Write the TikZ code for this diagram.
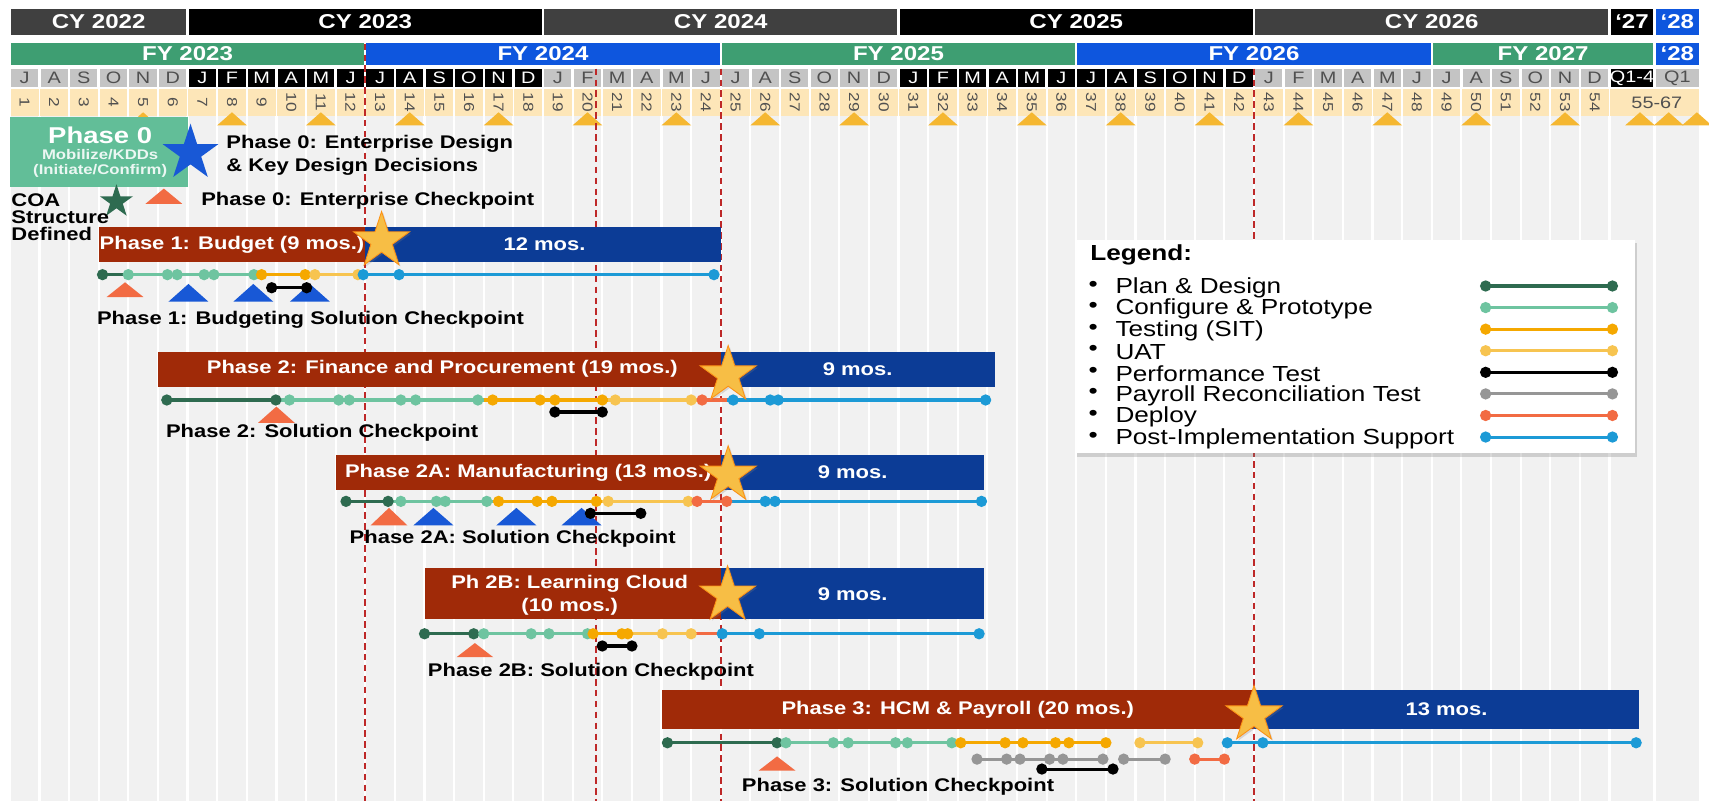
\documentclass[tikz,border=0pt]{standalone}
\usepackage{fontspec}
\setmainfont[FakeStretch=1.2]{Liberation Sans}
\usetikzlibrary{shapes.geometric,shadows}

\definecolor{cygray}{RGB}{64,64,64}
\definecolor{fygreen}{RGB}{62,158,114}
\definecolor{fyblue}{RGB}{14,86,222}
\definecolor{cellgray}{RGB}{196,196,196}
\definecolor{inkgray}{RGB}{80,80,80}
\definecolor{numtan}{RGB}{253,230,184}
\definecolor{gridgray}{RGB}{241,241,241}
\definecolor{markgold}{RGB}{245,183,49}
\definecolor{barred}{RGB}{160,42,8}
\definecolor{barblue}{RGB}{12,60,150}
\definecolor{phzero}{RGB}{98,190,152}
\definecolor{plandes}{RGB}{46,107,80}
\definecolor{config}{RGB}{110,196,160}
\definecolor{sit}{RGB}{245,168,0}
\definecolor{uat}{RGB}{247,196,80}
\definecolor{recon}{RGB}{150,150,150}
\definecolor{deploy}{RGB}{242,107,67}
\definecolor{postimp}{RGB}{28,154,214}
\definecolor{ckblue}{RGB}{24,88,214}
\definecolor{stargold}{RGB}{247,190,69}
\definecolor{dashred}{RGB}{190,40,40}

\begin{document}
\begin{tikzpicture}[x=13.59pt, y=-0.5pt,
		hdr/.style={text=white, font=\fontsize{9.2}{10}\selectfont\bfseries, inner sep=0pt},
		mon/.style={font=\fontsize{7.6}{8}\selectfont, inner sep=0pt},
		num/.style={font=\fontsize{6.6}{7}\selectfont, text=inkgray, rotate=-90, inner sep=0pt},
		bartxt/.style={text=white, font=\fontsize{8.4}{10.5}\selectfont\bfseries, inner sep=0pt, align=center},
		lbl/.style={font=\fontsize{8.4}{10}\selectfont\bfseries, inner sep=0pt, anchor=west},
		legtxt/.style={font=\fontsize{10}{11}\selectfont, inner sep=0pt, anchor=west},
		act/.style={line width=1.4pt},
		bigstar/.style={star, star points=5, star point ratio=2.618, inner sep=0pt},
		goldstar/.style={bigstar, fill=stargold, draw=orange!70!stargold, line width=0.4pt, minimum size=27pt, drop shadow={opacity=0.25, shadow xshift=0.8pt, shadow yshift=-0.8pt}},
		dashline/.style={dashred, line width=0.8pt, dash pattern=on 3pt off 2pt},
	]
	\useasboundingbox (-0.331,0) rectangle (57.36,735);
	
	% grid
	\fill[gridgray] (0,106) rectangle (57.06,735);
	\foreach \m in {0,...,54,55.52,57.06}
		\draw[white, line width=1pt] (\m,106) -- (\m,735);
	
	% calendar years
	\foreach \a/\b/\col/\txt [count=\i] in {0/6/cygray/CY 2022, 6/18/black/CY 2023, 18/30/cygray/CY 2024, 30/42/black/CY 2025, 42/54/cygray/CY 2026, 54/55.52/black/‘27, 55.52/57.06/fyblue/‘28}{
		\fill[\col] (\a+0.04,8) rectangle (\b-0.04,32);
		\node[hdr] (cy\i) at ({(\a+\b)/2},20) {\txt};
	}
	
	% fiscal years
	\foreach \a/\b/\col/\txt [count=\i] in {0/12/fygreen/FY 2023, 12/24/fyblue/FY 2024, 24/36/fygreen/FY 2025, 36/48/fyblue/FY 2026, 48/55.52/fygreen/FY 2027, 55.52/57.06/fyblue/‘28}{
		\fill[\col] (\a+0.04,39) rectangle (\b-0.04,60);
		\node[hdr] (fy\i) at ({(\a+\b)/2},49.5) {\txt};
	}
	
	% months
	\foreach \b/\cell/\ink in {0/cellgray/inkgray, 1/black/white, 2/black/white, 3/cellgray/inkgray, 4/cellgray/inkgray, 5/black/white, 6/black/white, 7/cellgray/inkgray, 8/cellgray/inkgray}{
		\ifodd\b \def\lst{J,F,M,A,M,J}\else \def\lst{J,A,S,O,N,D}\fi
		\foreach \L [count=\k] in \lst{
			\pgfmathtruncatemacro\m{6*\b+\k}
			\fill[\cell] (\m-0.96,63) rectangle (\m-0.04,80);
			\node[mon, text=\ink] (mo\m) at (\m-0.5,71.5) {\L};
		}
	}
	\fill[black] (54.04,63) rectangle (55.48,80);
	\node[mon, text=white] (moq14) at (54.76,71.5) {Q1-4};
	\fill[cellgray] (55.56,63) rectangle (57.02,80);
	\node[mon, text=inkgray] (moq1) at (56.29,71.5) {Q1};
	
	% month numbers
	\foreach \m in {1,...,54}{
		\fill[numtan] (\m-0.97,82) rectangle (\m-0.03,106);
		\node[num] (n\m) at (\m-0.5,94) {\m};
	}
	\fill[numtan] (54.03,82) rectangle (57.03,106);
	\node[mon, text=inkgray] (nlast) at (55.6,94) {55-67};
	
	\foreach \m in {5,8,...,53}
		\fill[markgold] (\m-1,115) -- (\m,115) -- (\m-0.5,103) -- cycle;
	\foreach \x in {55.03,56.0,56.95}
		\fill[markgold] (\x-0.5,115) -- (\x+0.5,115) -- (\x,103) -- cycle;
	
	\draw[dashline] (12,40) -- (12,735);
	\foreach \x in {19.78,24,42}
		\draw[dashline] (\x,63) -- (\x,735);
	
	% phase 0
	\fill[phzero] (0,107) rectangle (6,172);
	\node[hdr, font=\fontsize{10.5}{12}\selectfont\bfseries] (ph0) at (3.05,124) {Phase 0};
	\node[hdr, text=white!88!phzero, font=\fontsize{6.4}{7}\selectfont\bfseries] (ph0a) at (3.05,142) {Mobilize/KDDs};
	\node[hdr, text=white!88!phzero, font=\fontsize{6.4}{7}\selectfont\bfseries] (ph0b) at (3.05,157) {(Initiate/Confirm)};
	\node[bigstar, fill=ckblue, minimum size=27pt] (star0) at (6.1,140.5) {};
	\node[lbl] (ed1) at (7.3,132) {Phase 0: Enterprise Design};
	\node[lbl] (ed2) at (7.3,153) {\& Key Design Decisions};
	\node[bigstar, fill=plandes, minimum size=16pt] (coastar) at (3.6,185) {};
	\fill[deploy] (4.58,187) -- (5.82,187) -- (5.2,173) -- cycle;
	\node[lbl] (ec) at (6.45,184) {Phase 0: Enterprise Checkpoint};
	\node[lbl] (coa1) at (0.04,183.5) {COA};
	\node[lbl] (coa2) at (0.04,199) {Structure};
	\node[lbl] (coa3) at (0.04,214.6) {Defined};
	
	% phase 1
	\fill[barred] (3,208.5) rectangle (12,240);
	\fill[barblue] (12,208.5) rectangle (24,240);
	\node[bartxt] (p1a) at (7.5,224.5) {Phase 1: Budget (9 mos.)};
	\node[bartxt] (p1b) at (18.05,224.5) {12 mos.};
	\node[goldstar] (p1star) at (12.55,221) {};
	\foreach \col/\a/\b in {plandes/3.13/4.0, config/4.0/8.4, sit/8.4/10.0, uat/10.0/11.9, postimp/11.9/23.77}
		\draw[act, \col] (\a,252) -- (\b,252);
	\foreach \col/\x in {plandes/3.13, config/4.0, config/5.32, config/5.65, config/6.56, config/6.89, config/8.24, sit/8.5, sit/9.97, uat/10.3, uat/11.75, postimp/11.93, postimp/13.14, postimp/23.77}
		\fill[\col] (\x,252) circle (2.6pt);
	\fill[deploy] (3.27,272.5) -- (4.51,272.5) -- (3.89,259) -- cycle;
	\foreach \x in {6.03,8.22,10.13}
		\fill[ckblue] (\x-0.675,276.8) -- (\x+0.675,276.8) -- (\x,260.5) -- cycle;
	\draw[act, black] (8.84,264) -- (10.02,264);
	\fill (8.84,264) circle (2.6pt) (10.02,264) circle (2.6pt);
	\node[lbl] (p1ck) at (2.93,293) {Phase 1: Budgeting Solution Checkpoint};
	
	% phase 2
	\fill[barred] (5,322.6) rectangle (24,354.8);
	\fill[barblue] (24,322.6) rectangle (33.25,354.8);
	\node[bartxt] (p2a) at (14.6,338.7) {Phase 2: Finance and Procurement (19 mos.)};
	\node[bartxt] (p2b) at (28.62,338.7) {9 mos.};
	\foreach \col/\a/\b in {plandes/5.3/8.98, config/8.98/16.0, sit/16.0/20.2, uat/20.2/23.2, deploy/23.2/24.2, postimp/24.2/32.94}
		\draw[act, \col] (\a,367) -- (\b,367);
	\foreach \col/\x in {plandes/5.3, plandes/8.98, config/9.44, config/11.1, config/11.46, config/13.2, config/13.7, config/15.8, sit/16.3, sit/17.9, sit/18.4, sit/20.0, uat/20.44, uat/23.0, deploy/23.37, postimp/24.42, postimp/25.67, postimp/25.94, postimp/32.94}
		\fill[\col] (\x,367) circle (2.6pt);
	\fill[deploy] (8.38,388) -- (9.62,388) -- (9.0,373) -- cycle;
	\draw[act, black] (18.4,378) -- (20.0,378);
	\fill (18.4,378) circle (2.6pt) (20.0,378) circle (2.6pt);
	\node[goldstar] (p2star) at (24.25,344) {};
	\node[lbl] (p2ck) at (5.26,397) {Phase 2: Solution Checkpoint};
	
	% phase 2A
	\fill[barred] (11,417.5) rectangle (24,449.6);
	\fill[barblue] (24,417.5) rectangle (32.9,449.6);
	\node[bartxt] (p2aa) at (17.5,433.5) {Phase 2A: Manufacturing (13 mos.)};
	\node[bartxt] (p2ab) at (28.45,433.5) {9 mos.};
	\foreach \col/\a/\b in {plandes/11.35/12.77, config/12.77/16.3, sit/16.3/20.0, uat/20.0/23.0, deploy/23.0/24.2, postimp/24.2/32.8}
		\draw[act, \col] (\a,460) -- (\b,460);
	\foreach \col/\x in {plandes/11.35, plandes/12.77, config/13.2, config/14.4, config/14.7, config/16.1, sit/16.5, sit/17.8, sit/18.3, sit/19.8, uat/20.2, uat/22.9, deploy/23.2, deploy/24.2, postimp/25.5, postimp/25.83, postimp/32.8}
		\fill[\col] (\x,460) circle (2.6pt);
	\fill[deploy] (12.18,482) -- (13.42,482) -- (12.8,466) -- cycle;
	\foreach \x in {14.3,17.1,19.3}
		\fill[ckblue] (\x-0.675,482) -- (\x+0.675,482) -- (\x,466) -- cycle;
	\draw[act, black] (19.6,471) -- (21.3,471);
	\fill (19.6,471) circle (2.6pt) (21.3,471) circle (2.6pt);
	\node[goldstar] (p2astar) at (24.25,436) {};
	\node[lbl] (p2ack) at (11.46,494) {Phase 2A: Solution Checkpoint};
	
	% phase 2B
	\fill[barred] (14,521.5) rectangle (24,568);
	\fill[barblue] (24,521.5) rectangle (32.9,568);
	\node[bartxt] (p2ba) at (18.9,546) {Ph 2B: Learning Cloud\\(10 mos.)};
	\node[bartxt] (p2bb) at (28.45,545) {9 mos.};
	\foreach \col/\a/\b in {plandes/14.0/15.66, config/15.66/19.6, sit/19.6/20.86, uat/20.86/23.0, deploy/23.0/24.05, postimp/24.05/32.72}
		\draw[act, \col] (\a,581.5) -- (\b,581.5);
	\foreach \col/\x in {plandes/14.0, plandes/15.66, config/16.0, config/17.6, config/18.2, config/19.5, sit/19.69, sit/20.66, sit/20.86, uat/22.03, uat/23.0, postimp/24.05, postimp/25.3, postimp/32.72}
		\fill[\col] (\x,581.5) circle (2.6pt);
	\fill[deploy] (15.08,603) -- (16.32,603) -- (15.7,590) -- cycle;
	\draw[act, black] (20.0,592.7) -- (21.0,592.7);
	\fill (20.0,592.7) circle (2.6pt) (21.0,592.7) circle (2.6pt);
	\node[goldstar] (p2bstar) at (24.23,546) {};
	\node[lbl] (p2bck) at (14.1,616) {Phase 2B: Solution Checkpoint};
	
	% phase 3
	\fill[barred] (22,633) rectangle (42,669);
	\fill[barblue] (42,633) rectangle (55,669);
	\node[bartxt] (p3a) at (32,651) {Phase 3: HCM \& Payroll (20 mos.)};
	\node[bartxt] (p3b) at (48.5,651) {13 mos.};
	\foreach \col/\a/\b in {plandes/22.2/26.0, config/26.0/32.0, sit/32.0/37.0, uat/38.15/40.1, postimp/41.1/54.9}
		\draw[act, \col] (\a,681.5) -- (\b,681.5);
	\foreach \col/\x in {plandes/22.2, plandes/25.9, config/26.2, config/27.8, config/28.3, config/29.9, config/30.3, config/31.8, sit/32.1, sit/33.6, sit/34.2, sit/35.3, sit/35.75, sit/37.0, uat/38.15, uat/40.1, postimp/41.1, postimp/42.3, postimp/54.9}
		\fill[\col] (\x,681.5) circle (2.6pt);
	\foreach \col/\a/\b in {recon/32.65/36.9, recon/37.6/39.0, deploy/40.0/41.0}
		\draw[act, \col] (\a,696.5) -- (\b,696.5);
	\foreach \col/\x in {recon/32.65, recon/33.65, recon/34.1, recon/35.1, recon/35.55, recon/36.9, recon/37.6, recon/39.0, deploy/40.0, deploy/41.0}
		\fill[\col] (\x,696.5) circle (2.6pt);
	\fill[deploy] (25.28,707) -- (26.52,707) -- (25.9,694) -- cycle;
	\draw[act, black] (34.84,705.6) -- (37.24,705.6);
	\fill (34.84,705.6) circle (2.6pt) (37.24,705.6) circle (2.6pt);
	\node[goldstar] (p3star) at (42.0,656) {};
	\node[lbl] (p3ck) at (24.7,722) {Phase 3: Solution Checkpoint};
	
	% legend
	\path[fill=white, drop shadow={opacity=0.3, shadow xshift=1pt, shadow yshift=-1.5pt}] (35.95,220) rectangle (54.86,416);
	\node[legtxt, font=\fontsize{10}{11}\selectfont\bfseries] (legtitle) at (36.46,234) {Legend:};
	\foreach \col/\txt [count=\i] in {plandes/Plan \& Design, config/Configure \& Prototype, sit/Testing (SIT), uat/UAT, black/Performance Test, recon/Payroll Reconciliation Test, deploy/Deploy, postimp/Post-Implementation Support}{
		\pgfmathsetmacro\yy{262.4+19.8*(\i-1)}
		\node[legtxt, anchor=center] (bul\i) at (36.57,\yy) {\textbullet};
		\node[legtxt] (leg\i) at (37.31,\yy+1.5) {\txt};
		\draw[act, \col] (49.82,\yy) -- (54.1,\yy);
		\fill[\col] (49.82,\yy) circle (2.6pt) (54.1,\yy) circle (2.6pt);
	}
\end{tikzpicture}
\end{document}
